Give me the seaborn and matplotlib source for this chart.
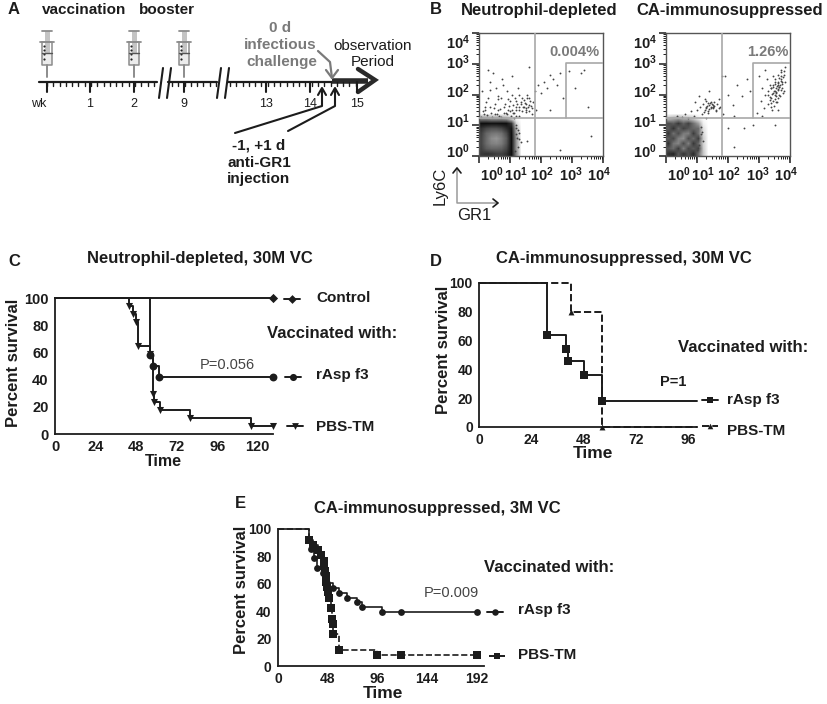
#!/usr/bin/env python3
import numpy as np
import pandas as pd
import matplotlib
matplotlib.use("Agg")
import matplotlib.pyplot as plt
import seaborn as sns

W, H = 827, 704
INK = "#1c1c1c"
GREY = "#7a7a7a"

# —— panel A ——
WEEK_LABELS = ["wk", "1", "2", "9", "13", "14", "15"]
WEEK_PX = [47, 90, 134, 184, 266, 310, 357]
SYRINGE_PX = [47, 134, 184]

# —— panel B: gates and hand-read density tables (grey level, bottom row first) ——
GATE_V = 1.82
GATE_H = 1.22
GATE_LEFT = 2.82
GATE_TOP = 3.03

BLOB_LEFT = [
    [0.22, 0.20, 0.22, 0.25, 0.26, 0.20, 0.06, 0.55, 1.00],
    [0.26, 0.36, 0.40, 0.40, 0.38, 0.28, 0.06, 0.60, 1.00],
    [0.28, 0.42, 0.50, 0.52, 0.48, 0.34, 0.06, 0.60, 1.00],
    [0.28, 0.42, 0.54, 0.58, 0.50, 0.36, 0.06, 0.60, 1.00],
    [0.26, 0.40, 0.46, 0.48, 0.44, 0.30, 0.06, 0.65, 1.00],
    [0.20, 0.28, 0.32, 0.32, 0.28, 0.18, 0.08, 0.70, 1.00],
    [0.06, 0.06, 0.07, 0.07, 0.06, 0.06, 0.20, 0.85, 1.00],
    [0.55, 0.55, 0.60, 0.60, 0.60, 0.65, 0.85, 0.97, 1.00],
    [1.00, 1.00, 1.00, 1.00, 1.00, 1.00, 1.00, 1.00, 1.00],
]
BLOB_RIGHT = [
    [0.20, 0.16, 0.34, 0.22, 0.32, 0.18, 0.42, 0.78, 1.00],
    [0.34, 0.42, 0.24, 0.50, 0.28, 0.36, 0.26, 0.80, 1.00],
    [0.20, 0.46, 0.52, 0.30, 0.50, 0.22, 0.40, 0.82, 1.00],
    [0.36, 0.28, 0.50, 0.56, 0.30, 0.42, 0.24, 0.80, 1.00],
    [0.22, 0.44, 0.30, 0.48, 0.50, 0.24, 0.44, 0.85, 1.00],
    [0.36, 0.20, 0.40, 0.26, 0.34, 0.40, 0.42, 0.88, 1.00],
    [0.30, 0.36, 0.22, 0.38, 0.26, 0.44, 0.62, 0.94, 1.00],
    [0.74, 0.66, 0.62, 0.68, 0.72, 0.80, 0.92, 0.98, 1.00],
    [1.00, 1.00, 1.00, 1.00, 1.00, 1.00, 1.00, 1.00, 1.00],
]

DOTS_LEFT_X = [0.1, 0.2, 0.3, 0.35, 0.4, 0.5, 0.55, 0.6, 0.7, 0.75, 0.8, 0.85, 0.9, 0.95, 1.0, 1.05,
               1.1, 1.15, 1.2, 1.25, 1.3, 1.35, 1.4, 1.45, 1.5, 1.55, 1.6, 1.65, 1.7, 1.75, 1.8, 1.85,
               1.9, 2.0, 2.1, 2.2, 2.3, 2.4, 2.5, 2.6, 2.7, 2.9, 3.1, 3.3, 3.5, 0.15, 0.45, 0.65, 0.9,
               1.0, 1.2, 1.3, 1.4, 1.5, 1.6, 1.7, 1.3, 1.1, 0.6, 0.3, 1.6, 2.3, 1.2, 2.6, 1.55, 3.6, 3.4,
               1.18, 1.22, 1.26, 1.3, 1.34, 1.15, 1.2, 1.25, 1.3, 0.05, 0.25, 0.42, 0.58, 0.72, 0.88, 1.02,
               1.12, 0.18, 0.36, 0.52, 0.68, 0.82, 0.96, 1.08, 1.14, 1.2, 1.24, 1.42, 1.48, 1.52, 1.58, 1.62,
               1.68, 1.44, 1.5, 1.56, 1.36, 1.28, 1.18, 1.06, 0.92, 0.78, 0.62, 0.48, 0.34, 0.22, 0.12]
DOTS_LEFT_Y = [2.1, 1.6, 1.9, 2.4, 1.4, 1.7, 2.2, 1.5, 1.9, 2.5, 1.4, 1.7, 2.1, 1.5, 1.8, 2.6,
               1.4, 1.9, 1.6, 2.2, 1.5, 1.75, 1.9, 1.6, 1.7, 2.0, 1.65, 1.8, 1.55, 1.75, 2.1, 1.5,
               2.3, 2.05, 2.4, 2.2, 2.65, 2.5, 2.3, 2.7, 1.9, 2.75, 2.2, 2.7, 1.6, 1.35, 2.7, 1.3, 1.35,
               1.45, 1.3, 1.3, 1.45, 1.55, 1.45, 1.35, 2.0, 1.65, 1.95, 2.8, 2.9, 1.5, 0.7, 0.2, 0.5, 0.65, 2.8,
               0.9, 0.6, 0.3, 0.75, 0.45, 0.15, 1.0, 0.85, 0.55, 1.28, 1.32, 1.26, 1.36, 1.28, 1.4, 1.3,
               1.22, 1.5, 1.6, 1.38, 1.52, 1.6, 1.62, 1.5, 1.4, 1.48, 1.7, 1.6, 1.72, 1.5, 1.6, 1.9,
               1.62, 1.82, 1.42, 1.88, 1.68, 1.58, 1.78, 2.0, 1.85, 2.3, 1.85, 1.55, 2.15, 1.75, 1.45]

DOTS_RIGHT_X = [1.0, 1.1, 1.15, 1.2, 1.25, 1.3, 1.35, 1.4, 1.45, 1.5, 1.55, 1.6, 1.65, 1.7, 1.25, 1.35,
                1.45, 1.5, 1.6, 0.9, 0.95, 1.05, 1.75, 1.85, 2.0, 2.15, 2.3, 2.45, 2.6, 2.7, 1.9, 2.2, 2.5,
                2.95, 3.05, 3.1, 3.15, 3.2, 3.25, 3.3, 3.35, 3.4, 3.45, 3.5, 3.55, 3.6, 3.65, 3.7, 3.75, 3.8,
                3.85, 3.3, 3.4, 3.5, 3.6, 3.7, 3.45, 3.55, 3.65, 3.75, 3.5, 3.6, 3.7, 3.4, 3.5, 3.6, 3.8, 3.2,
                3.1, 3.0, 3.85, 3.6, 3.7, 3.55, 3.45, 1.3, 1.5, 1.7, 2.2, 2.8, 1.4, 1.8, 2.0, 3.5,
                3.42, 3.48, 3.52, 3.58, 3.62, 3.68, 3.72, 3.38, 3.44, 3.5, 3.56, 3.62, 3.66, 3.74, 3.78, 3.34,
                3.4, 3.46, 3.54, 3.6, 3.64, 3.7, 3.76, 3.82, 3.28, 3.36, 3.42, 3.48, 3.58, 3.68, 1.32, 1.38,
                1.42, 1.48, 1.52, 1.3, 1.36, 1.44, 1.56, 1.22, 1.28, 0.62, 0.8, 1.12, 0.35, 1.0, 1.14, 1.2,
                1.08, 1.16, 0.5, 0.72]
DOTS_RIGHT_Y = [1.5, 1.6, 1.35, 1.7, 1.5, 1.6, 1.45, 1.65, 1.55, 1.6, 1.75, 1.5, 1.7, 1.85, 1.85, 1.4,
                1.75, 1.6, 1.45, 1.3, 1.75, 1.95, 1.6, 1.35, 2.0, 1.65, 2.3, 1.95, 2.5, 2.1, 2.6, 1.3, 0.9,
                1.4, 1.8, 2.2, 1.55, 2.0, 2.5, 1.7, 2.3, 1.9, 2.6, 2.1, 1.75, 2.4, 2.0, 2.6, 2.2, 2.75,
                2.4, 2.1, 2.2, 2.35, 2.15, 2.45, 2.05, 1.95, 2.25, 2.35, 2.5, 2.65, 2.8, 1.6, 1.85, 1.5, 2.1, 2.8,
                1.3, 2.6, 2.9, 2.3, 2.15, 2.05, 2.25, 1.25, 1.65, 1.55, 0.3, 1.0, 2.1, 2.6, 0.9, 1.0,
                2.02, 2.12, 1.98, 2.28, 2.18, 2.32, 2.52, 2.22, 2.32, 2.42, 2.08, 2.38, 2.55, 2.42, 2.58, 1.92,
                1.72, 1.78, 2.2, 1.88, 2.26, 2.72, 2.05, 2.62, 2.0, 1.82, 1.5, 1.62, 1.74, 1.94, 1.62, 1.52,
                1.72, 1.68, 1.55, 1.55, 1.72, 1.6, 1.62, 1.42, 1.78, 1.38, 1.45, 0.7, 1.3, 0.2, 0.95, 0.5,
                0.35, 0.78, 1.26, 1.22]

# —— panels C, D, E: survival steps ——
C_CONTROL_T = [0, 129]
C_CONTROL_S = [100, 100]
C_RASP_T = [0, 56, 57.7, 61.3, 129]
C_RASP_S = [100, 58.3, 50, 41.7, 41.7]
C_PBS_T = [0, 43.5, 46.3, 48, 49.3, 56, 57.7, 58.5, 62, 80, 116, 129]
C_PBS_S = [100, 94.1, 88.2, 82.4, 64.7, 58.8, 29.4, 23.5, 17.6, 11.8, 5.9, 5.9]

D_RASP_T = [0, 31, 40, 41, 48, 56.5, 100]
D_RASP_S = [100, 63.6, 54.5, 45.5, 36.4, 18.2, 18.2]
D_PBS_T = [0, 42, 56.5, 100]
D_PBS_S = [100, 80, 0, 0]

E_RASP_T = [0, 30, 32, 35, 38, 43, 45, 47, 53, 59, 67, 76, 81, 100, 119, 192]
E_RASP_S = [100, 92.9, 85.7, 78.6, 71.4, 67.9, 64.3, 60.7, 57.1, 53.6, 50, 46.4, 42.9, 39.3, 39.3, 39.3]
E_PBS_T = [0, 30, 34, 39, 42, 44, 44.7, 45.3, 46, 46.7, 47.3, 48, 49, 51, 52, 53, 53.5, 59, 96, 119, 192]
E_PBS_S = [100, 92.3, 88.5, 84.6, 80.8, 76.9, 73.1, 69.2, 65.4, 61.5, 57.7, 53.8, 50, 42.3, 34.6, 30.8, 23.1, 11.5, 7.7, 7.7, 7.7]


def px_axes(fig, left, top, right, bottom):
    return fig.add_axes([left / W, 1 - bottom / H, (right - left) / W, (bottom - top) / H])


def survival(ax, times, surv, marker, size, dashed=False, mark_last=True, lw=1.4):
    df = pd.DataFrame({"t": times, "s": surv})
    sns.lineplot(data=df, x="t", y="s", ax=ax, estimator=None, sort=False, color=INK,
                 drawstyle="steps-post", linewidth=lw, linestyle="--" if dashed else "-",
                 clip_on=False, legend=False)
    marks = df.iloc[1:] if mark_last else df.iloc[1:-1]
    sns.scatterplot(data=marks, x="t", y="s", ax=ax, marker=marker, s=size, color=INK,
                    linewidth=0, clip_on=False, legend=False, zorder=5)
    ax.set_xlabel("")
    ax.set_ylabel("")


def km_axes(fig, box, xmax, xticks, labelsize=10.5):
    ax = px_axes(fig, *box)
    ax.set_xlim(0, xmax)
    ax.set_ylim(0, 100)
    ax.set_xticks(xticks)
    ax.set_yticks([0, 20, 40, 60, 80, 100])
    ax.patch.set_alpha(0)
    for side in ["top", "right"]:
        ax.spines[side].set_visible(False)
    for side in ["left", "bottom"]:
        ax.spines[side].set_linewidth(1.3)
        ax.spines[side].set_color(INK)
    ax.tick_params(length=4, width=1.2, pad=0.5, labelsize=labelsize, colors=INK)
    for lab in ax.get_xticklabels() + ax.get_yticklabels():
        lab.set_fontweight("bold")
    return ax


def flow_axes(fig, box, blob, dots_x, dots_y):
    ax = px_axes(fig, *box)
    ax.imshow(np.array(blob), cmap="gray", vmin=0, vmax=1, origin="lower", extent=(0, 1.45, 0, 1.45),
              interpolation="bilinear", aspect="auto", zorder=1)
    sns.scatterplot(x=dots_x, y=dots_y, ax=ax, s=1.8, color="#444444", linewidth=0, legend=False, zorder=2)
    ax.set_xlim(0, 4)
    ax.set_ylim(0, 4)
    gc = "#a8a8a8"
    ax.axvline(GATE_V, color=gc, lw=1.2, zorder=3)
    ax.axhline(GATE_H, color=gc, lw=1.2, zorder=3)
    ax.plot([4, GATE_LEFT, GATE_LEFT], [GATE_TOP, GATE_TOP, GATE_H], color=gc, lw=1.2, zorder=3)
    minors = [n + np.log10(k) for n in range(4) for k in range(2, 10)]
    ax.set_xticks(range(5))
    ax.set_yticks(range(5))
    ax.set_xticks(minors, minor=True)
    ax.set_yticks(minors, minor=True)
    ax.set_xticklabels([])
    ax.set_yticklabels([])
    ax.tick_params(which="major", length=5, width=1.1, color=INK, bottom=True, left=True)
    ax.tick_params(which="minor", length=2.5, width=0.7, color=INK, bottom=True, left=True)
    for s in ax.spines.values():
        s.set_linewidth(1.0)
        s.set_color("#555555")
    return ax


def syringe(ov, x):
    c = "#8c8c8c"
    ov.plot([x - 5, x + 5], [31, 31], color=c, lw=1.3)
    ov.plot([x - 7, x + 7], [42, 42], color=c, lw=1.3)
    ov.fill([x - 2.5, x + 2.5, x + 2.5, x - 2.5], [31, 31, 53, 53], color="#c4c4c4", lw=0)
    ov.fill([x - 5, x + 5, x + 5, x - 5], [53, 53, 65, 65], color="#ececec", lw=0)
    ov.plot([x - 5, x - 5, x + 5, x + 5, x - 5], [42, 65, 65, 42, 42], color=c, lw=1.1)
    ov.plot([x - 5, x + 5], [53, 53], color="#555555", lw=1)
    ov.plot([x, x], [65, 77], color=c, lw=1.4)
    ov.scatter([x - 3] * 4, [46, 50, 54, 59], s=2.5, color="#222222", linewidths=0)


def legend_key(ov, x, y, marker, size, dashed=False):
    ov.plot([x - 8, x + 8], [y, y], color=INK, lw=1.4, ls="--" if dashed else "-")
    ov.scatter([x], [y], marker=marker, s=size, color=INK, linewidths=0, zorder=5)


def main():
    sns.set_theme(style="white")
    plt.rcParams["font.family"] = ["Liberation Sans", "DejaVu Sans"]
    plt.rcParams["mathtext.fontset"] = "custom"
    plt.rcParams["mathtext.bf"] = "Liberation Sans:bold"
    plt.rcParams["mathtext.rm"] = "Liberation Sans:bold"

    fig = plt.figure(figsize=(W / 100, H / 100), dpi=100, facecolor="white")

    # —— B ——
    flow_axes(fig, (479, 33, 603, 156), BLOB_LEFT, DOTS_LEFT_X, DOTS_LEFT_Y)
    flow_axes(fig, (666, 33, 790, 156), BLOB_RIGHT, DOTS_RIGHT_X, DOTS_RIGHT_Y)

    # —— C ——
    ax = km_axes(fig, (55, 298, 273, 434), 129, [0, 24, 48, 72, 96, 120])
    survival(ax, C_CONTROL_T, C_CONTROL_S, "D", 22)
    survival(ax, C_RASP_T, C_RASP_S, "o", 32)
    survival(ax, C_PBS_T, C_PBS_S, "v", 26)

    # —— D ——
    ax = km_axes(fig, (479, 283, 697, 427), 100, [0, 24, 48, 72, 96], labelsize=10)
    survival(ax, D_PBS_T, D_PBS_S, "^", 18, dashed=True, mark_last=False)
    survival(ax, D_RASP_T, D_RASP_S, "s", 30, mark_last=False)

    # —— E ——
    ax = km_axes(fig, (278, 529, 484, 666), 199, [0, 48, 96, 144, 192], labelsize=10)
    survival(ax, E_PBS_T, E_PBS_S, "s", 26, dashed=True, lw=1.2)
    survival(ax, E_RASP_T, E_RASP_S, "o", 24, lw=1.2)

    # —— 叠加层：文字、流程图（像素坐标）——
    ov = fig.add_axes([0, 0, 1, 1], zorder=10)
    ov.set_xlim(0, W)
    ov.set_ylim(H, 0)
    ov.axis("off")

    def txt(x, y, s, size=10.5, weight="bold", color=INK, ha="center", va="center", rot=0):
        ov.text(x, y, s, fontsize=size, fontweight=weight, color=color, ha=ha, va=va, rotation=rot)

    # 面板字母
    txt(14, 10, "A", 12)
    txt(436, 10, "B", 12)
    txt(14, 262, "C", 12)
    txt(436, 261, "D", 12)
    txt(240, 503, "E", 12)

    # A
    txt(42, 10, "vaccination", 11, ha="left")
    txt(139, 10, "booster", 11, ha="left")
    txt(280, 28, "0 d", 11, color=GREY)
    txt(280, 45, "infectious", 11, color=GREY)
    txt(282, 62, "challenge", 11, color=GREY)
    txt(373, 46, "observation", 11, weight="normal")
    txt(373, 62, "Period", 11, weight="normal")
    for x in SYRINGE_PX:
        syringe(ov, x)
    for seg in [(39, 157), (168, 217), (228, 332)]:
        ov.plot(seg, [82, 82], color=INK, lw=1.6)
    ov.plot([332, 368], [81, 81], color="#2a2a2a", lw=4, solid_capstyle="butt")
    ov.plot([358, 375, 358], [69, 80, 92], color="#2a2a2a", lw=3.2, solid_joinstyle="miter")
    for x0, x1 in [(159, 166), (217, 224)]:
        for dx in (0, 8):
            ov.plot([x0 + dx, x1 + dx - 3], [98, 68], color=INK, lw=1.5)
    day = 44 / 7
    segs = [(47, 157), (172, 217), (230, 358)]
    for lo, hi in segs:
        for tx in np.arange(lo, hi, day):
            ov.plot([tx, tx], [82, 86], color=INK, lw=1.0)
    for lab, x in zip(WEEK_LABELS, WEEK_PX):
        ov.plot([x, x], [82, 92], color=INK, lw=1.5)
        txt(x - (8 if lab == "wk" else 0), 104, lab, 9, weight="normal")
    # 箭头
    ov.plot([318, 330, 332], [51, 62, 78], color=GREY, lw=1.6)
    ov.plot([326, 332, 338], [70, 78, 70], color=GREY, lw=1.6)
    ov.plot([235, 322, 322], [133, 106, 90], color=INK, lw=1.5)
    ov.plot([288, 335, 335], [131, 106, 90], color=INK, lw=1.5)
    ov.plot([318, 322, 326], [95, 88, 95], color=INK, lw=1.5)
    ov.plot([331, 335, 339], [95, 88, 95], color=INK, lw=1.5)
    txt(259, 146, "-1, +1 d", 11)
    txt(259, 163, "anti-GR1", 11)
    txt(259, 179, "injection", 11)

    # B
    txt(461, 10, "Neutrophil-depleted", 12, ha="left")
    txt(636, 10, "CA-immunosuppressed", 12, ha="left")
    txt(574, 52, "0.004%", 10.5, color=GREY)
    txt(768, 52, "1.26%", 10.5, color=GREY)
    x_label_px = [72, 96, 122, 151, 179]
    y_label_px = [152, 122, 92, 63, 43]
    for off in (0, 187):
        for p, px in enumerate(x_label_px):
            txt(420 + off + px, 175, rf"$\mathbf{{10^{{{p}}}}}$", 10.5)
        for p, py in enumerate(y_label_px):
            txt(470 + off, py, rf"$\mathbf{{10^{{{p}}}}}$", 10.5, ha="right")
    txt(440, 186, "Ly6C", 12, weight="normal", rot=90)
    ov.plot([457, 457, 498], [168, 203, 203], color="#9a9a9a", lw=1.1)
    ov.plot([453, 457, 461], [173, 168, 173], color=INK, lw=1.2)
    ov.plot([493, 498, 493], [199, 203, 207], color=INK, lw=1.2)
    txt(474, 215, "GR1", 12, weight="normal")

    # C
    txt(200, 259, "Neutrophil-depleted, 30M VC", 12)
    txt(14, 363, "Percent survival", 12, rot=90)
    txt(163, 461, "Time", 11.5)
    txt(227, 365, "P=0.056", 10.5, weight="normal", color="#444444")
    legend_key(ov, 292, 299, "D", 20)
    txt(316, 298, "Control", 11, ha="left")
    txt(267, 333, "Vaccinated with:", 12, ha="left")
    legend_key(ov, 293, 377, "o", 26)
    txt(316, 375, "rAsp f3", 11, ha="left")
    legend_key(ov, 295, 426, "v", 24)
    txt(316, 427, "PBS-TM", 11, ha="left")

    # D
    txt(624, 259, "CA-immunosuppressed, 30M VC", 12)
    txt(443, 350, "Percent survival", 12, rot=90)
    txt(593, 454, "Time", 12.5)
    txt(673, 382, "P=1", 10.5)
    txt(743, 347, "Vaccinated with:", 12)
    legend_key(ov, 710, 400, "s", 24)
    txt(727, 400, "rAsp f3", 11, ha="left")
    legend_key(ov, 710, 426, "^", 16, dashed=True)
    txt(727, 431, "PBS-TM", 11, ha="left")

    # E
    txt(437, 508, "CA-immunosuppressed, 3M VC", 12)
    txt(241, 590, "Percent survival", 12, rot=90)
    txt(383, 694, "Time", 12.5)
    txt(451, 593, "P=0.009", 10.5, weight="normal", color="#444444")
    txt(549, 567, "Vaccinated with:", 12)
    legend_key(ov, 495, 612, "o", 22)
    txt(518, 610, "rAsp f3", 11, ha="left")
    legend_key(ov, 497, 656, "s", 22, dashed=True)
    txt(518, 655, "PBS-TM", 11, ha="left")

    fig.savefig("out.png", dpi=100)


if __name__ == "__main__":
    main()
